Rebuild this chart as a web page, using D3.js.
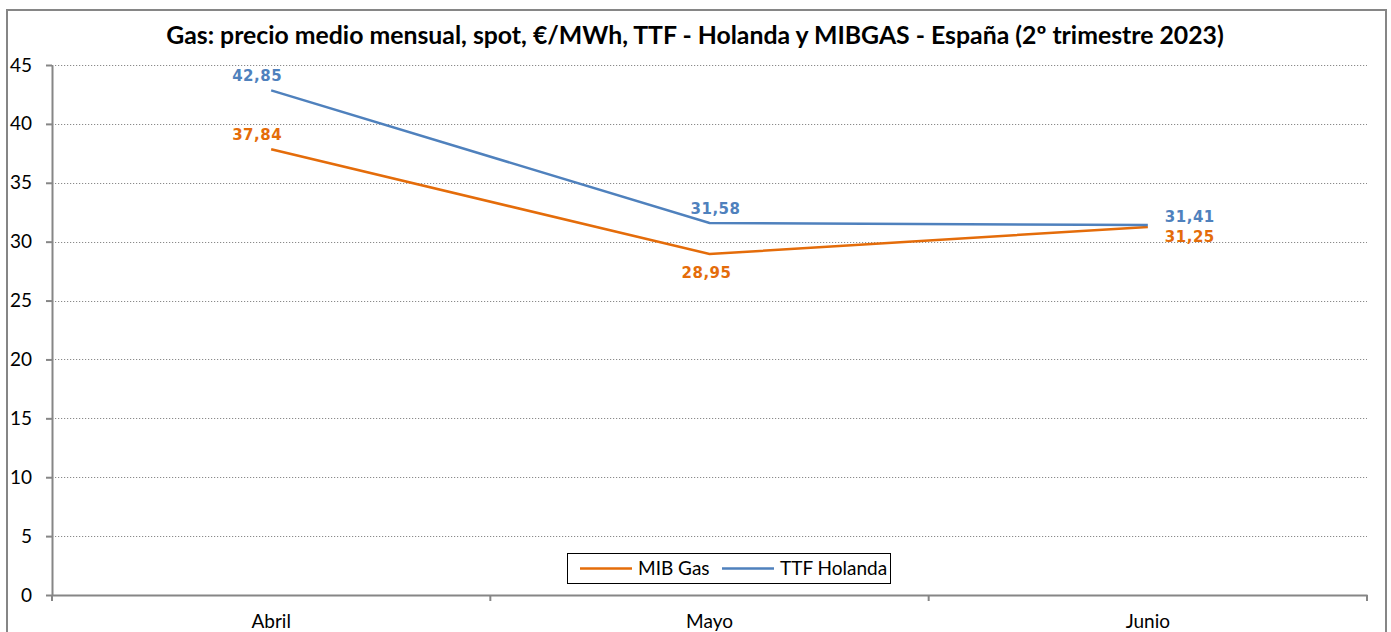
<!DOCTYPE html>
<html>
<head>
<meta charset="utf-8">
<script src="https://cdn.jsdelivr.net/npm/d3@7"></script>
<style>
  body { margin: 0; background: #fff; }
  svg { display: block; }
  .axis-text { font-family: Lato, "Open Sans", sans-serif; font-size: 19px; fill: #000; }
  .title { font-family: Lato, sans-serif; font-weight: bold; font-size: 24.8px; }
  .value-label { font-family: "DejaVu Sans", Verdana, sans-serif; font-weight: bold; font-size: 15px; letter-spacing: 0.5px; }
</style>
</head>
<body>
<div id="chart"></div>
<script>
// months on the x axis
let months = ['Abril', 'Mayo', 'Junio'];

// monthly average spot price, €/MWh
let mibGas = [37.84, 28.95, 31.25];
let ttfHolanda = [42.85, 31.58, 31.41];

let seriesNames = ['MIB Gas', 'TTF Holanda'];

// y axis ticks
let yTicks = [0, 5, 10, 15, 20, 25, 30, 35, 40, 45];

let w = 1391,
  h = 632,
  margin = {top: 65, right: 24, bottom: 37, left: 52},
  colors = {'MIB Gas': '#E46C0A', 'TTF Holanda': '#4F81BD'},
  axisColor = '#868686';

let svg = d3.select('#chart').append('svg')
  .attr('width', w)
  .attr('height', h);

// outer chart frame
svg.append('rect')
  .attr('x', 7).attr('y', 10)
  .attr('width', 1379).attr('height', 640)
  .attr('fill', 'none')
  .attr('stroke', axisColor)
  .attr('stroke-width', 2);

let x = d3.scaleBand()
  .domain(months)
  .range([margin.left, w - margin.right]);

let y = d3.scaleLinear()
  .domain([0, 45])
  .range([h - margin.bottom, margin.top]);

// dotted gridlines
svg.append('g').selectAll('line')
  .data(yTicks.filter(t => t > 0))
  .enter().append('line')
  .attr('x1', margin.left).attr('x2', w - margin.right)
  .attr('y1', d => Math.round(y(d)) + 0.5)
  .attr('y2', d => Math.round(y(d)) + 0.5)
  .attr('stroke', '#8a8a8a')
  .attr('stroke-width', 1.2)
  .attr('stroke-dasharray', '1.2,1.8');

// y axis
let yAxis = svg.append('g')
  .attr('transform', 'translate(' + margin.left + ',0)')
  .call(d3.axisLeft(y).tickValues(yTicks).tickSize(6).tickSizeOuter(0).tickPadding(20));
yAxis.select('.domain').attr('stroke', axisColor).attr('stroke-width', 2);
yAxis.selectAll('.tick line').attr('stroke', axisColor).attr('stroke-width', 2);
yAxis.selectAll('.tick text').attr('class', 'axis-text').attr('text-anchor', 'end').attr('x', -20);

// x axis
let xAxis = svg.append('g')
  .attr('transform', 'translate(0,' + y(0) + ')')
  .call(d3.axisBottom(x).tickSize(0).tickPadding(20));
xAxis.select('.domain').attr('stroke', axisColor).attr('stroke-width', 2);
xAxis.selectAll('.tick text').attr('class', 'axis-text');

// x tick marks at band boundaries
let bounds = months.map(m => x(m)).concat([x(months[months.length - 1]) + x.bandwidth()]);
svg.append('g').selectAll('line')
  .data(bounds)
  .enter().append('line')
  .attr('x1', d => d).attr('x2', d => d)
  .attr('y1', y(0)).attr('y2', y(0) + 6)
  .attr('stroke', axisColor)
  .attr('stroke-width', 2);

let line = d3.line()
  .x((d, i) => x(months[i]) + x.bandwidth() / 2)
  .y(d => y(d));

// label offsets relative to each point: [dx, dy, anchor]
let series = [
  {name: 'MIB Gas', values: mibGas, place: [[-14, -9, 'middle'], [-3, 24, 'middle'], [17, 15, 'start']]},
  {name: 'TTF Holanda', values: ttfHolanda, place: [[-14, -9, 'middle'], [6, -9, 'middle'], [17, -3, 'start']]}
];

series.forEach(s => {
  svg.append('path')
    .datum(s.values)
    .attr('fill', 'none')
    .attr('stroke', colors[s.name])
    .attr('stroke-width', 2.5)
    .attr('d', line);

  svg.append('g').selectAll('text')
    .data(s.values)
    .enter().append('text')
    .attr('class', 'value-label')
    .attr('fill', colors[s.name])
    .attr('text-anchor', (d, i) => s.place[i][2])
    .attr('x', (d, i) => x(months[i]) + x.bandwidth() / 2 + s.place[i][0])
    .attr('y', (d, i) => y(d) + s.place[i][1])
    .text(d => d.toFixed(2).replace('.', ','));
});

// title
svg.append('text')
  .attr('class', 'title')
  .attr('x', 695).attr('y', 44)
  .attr('text-anchor', 'middle')
  .text('Gas: precio medio mensual, spot, €/MWh, TTF - Holanda y MIBGAS - España (2º trimestre 2023)');

// legend
let legend = svg.append('g').attr('transform', 'translate(567,553)');
legend.append('rect')
  .attr('x', 0.5).attr('y', 0.5)
  .attr('width', 323).attr('height', 30)
  .attr('fill', '#fff')
  .attr('stroke', '#000');

let legendX = [13, 155];
seriesNames.forEach((n, i) => {
  legend.append('line')
    .attr('x1', legendX[i]).attr('x2', legendX[i] + 52)
    .attr('y1', 15.5).attr('y2', 15.5)
    .attr('stroke', colors[n])
    .attr('stroke-width', 2.5);
  legend.append('text')
    .attr('class', 'axis-text')
    .attr('x', legendX[i] + 58).attr('y', 22)
    .text(n);
});
</script>
</body>
</html>
